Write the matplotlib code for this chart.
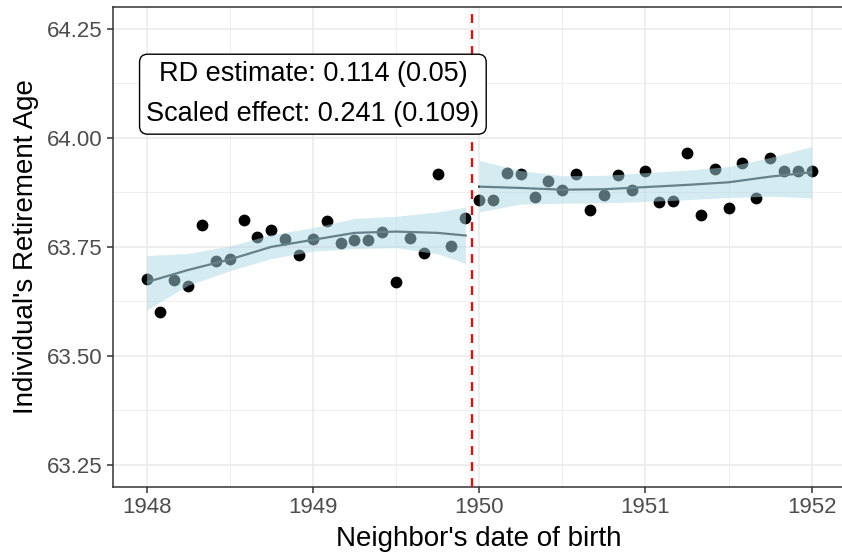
# -*- coding: utf-8 -*-
"""
RD plot: neighbor's date of birth vs. individual's retirement age
"""

import numpy as np
import matplotlib
matplotlib.use('Agg')
import matplotlib.pyplot as plt

# monthly bins (years), left and right of the cutoff
x_left = 1948 + np.arange(24) / 12
y_left = [63.677, 63.601, 63.675, 63.661, 63.801, 63.718, 63.721, 63.811,
          63.772, 63.789, 63.769, 63.731, 63.769, 63.809, 63.758, 63.765,
          63.765, 63.785, 63.669, 63.771, 63.736, 63.918, 63.751, 63.816]
x_right = 1950 + np.arange(25) / 12
y_right = [63.858, 63.858, 63.920, 63.917, 63.864, 63.900, 63.881, 63.916,
           63.834, 63.868, 63.914, 63.881, 63.924, 63.852, 63.856, 63.966,
           63.824, 63.929, 63.839, 63.943, 63.862, 63.954, 63.923, 63.923,
           63.923]

# fitted curves with confidence band
fit_x_left = [1948.0, 1948.25, 1948.5, 1948.75, 1949.0, 1949.25, 1949.5, 1949.75, 1949.917]
fit_left = [63.669, 63.697, 63.721, 63.750, 63.766, 63.782, 63.785, 63.782, 63.776]
lo_left = [63.605, 63.662, 63.695, 63.723, 63.740, 63.746, 63.748, 63.734, 63.712]
hi_left = [63.730, 63.735, 63.752, 63.778, 63.794, 63.815, 63.820, 63.830, 63.841]

fit_x_right = [1950.0, 1950.25, 1950.5, 1950.75, 1951.0, 1951.25, 1951.5, 1951.75, 1952.0]
fit_right = [63.888, 63.885, 63.881, 63.882, 63.887, 63.892, 63.898, 63.911, 63.921]
lo_right = [63.830, 63.848, 63.850, 63.851, 63.854, 63.858, 63.863, 63.866, 63.862]
hi_right = [63.948, 63.925, 63.913, 63.914, 63.920, 63.926, 63.934, 63.955, 63.980]

cutoff = 1950 - 1 / 24
label_text = 'RD estimate: 0.114 (0.05)\nScaled effect: 0.241 (0.109)'

plt.rcParams['font.family'] = ['Liberation Sans', 'DejaVu Sans']

fig = plt.figure(figsize=(8.42, 5.53), dpi=100)
ax = fig.add_axes([0.1346, 0.1199, 0.869, 0.8675])

# points first, band drawn over them (like geom_smooth over geom_point)
ax.scatter(x_left, y_left, s=72, color='black', zorder=2, linewidths=0)
ax.scatter(x_right, y_right, s=72, color='black', zorder=2, linewidths=0)

for fx, fy, lo, hi in [(fit_x_left, fit_left, lo_left, hi_left),
                       (fit_x_right, fit_right, lo_right, hi_right)]:
    ax.plot(fx, fy, color='#1e2a2e', lw=1.6, zorder=3)
    ax.fill_between(fx, lo, hi, color='#ADD8E6', alpha=0.5, lw=0, zorder=4)

ax.axvline(cutoff, color='red', lw=1.6, dashes=(4, 3.2), zorder=5)

ax.text(1949.0, 64.10, label_text, ha='center', va='center', fontsize=19.5,
        linespacing=1.72, zorder=6,
        bbox=dict(boxstyle='round,pad=0.25,rounding_size=0.3', fc='white', ec='black', lw=1))

ax.set_xlim(1947.8, 1952.2)
ax.set_ylim(63.2, 64.3)
ax.set_xticks([1948, 1949, 1950, 1951, 1952])
ax.set_xticks([1948.5, 1949.5, 1950.5, 1951.5], minor=True)
ax.set_yticks([63.25, 63.5, 63.75, 64.0, 64.25])
ax.set_yticklabels(['63.25', '63.50', '63.75', '64.00', '64.25'])
ax.set_yticks([63.375, 63.625, 63.875, 64.125], minor=True)

ax.grid(True, which='major', color='#EBEBEB', lw=1.2, zorder=0)
ax.grid(True, which='minor', color='#EBEBEB', lw=0.6, zorder=0)
ax.set_axisbelow(True)

for s in ax.spines.values():
    s.set_color('#333333')
    s.set_linewidth(1.1)

ax.tick_params(which='major', length=4.5, width=1.1, color='#333333',
               labelcolor='#4D4D4D', labelsize=16, pad=3)
ax.tick_params(which='minor', length=0)

ax.set_xlabel("Neighbor's date of birth", fontsize=20, labelpad=6)
ax.set_ylabel("Individual's Retirement Age", fontsize=20, labelpad=6)

plt.savefig('out.png', dpi=100)
